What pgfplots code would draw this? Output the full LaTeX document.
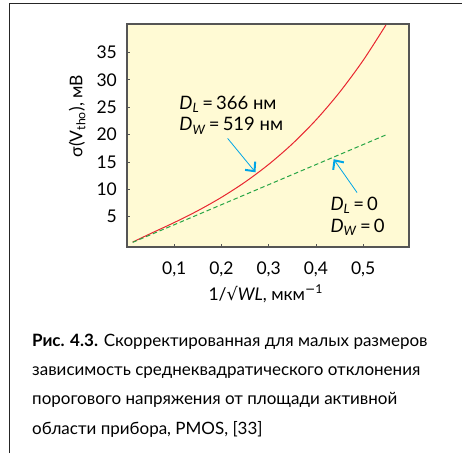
\documentclass[border=0pt]{standalone}
\usepackage{fontspec}
\setmainfont{Lato}
\newfontfamily\symfont{DejaVu Sans}
\usepackage{pgfplots}
\pgfplotsset{compat=1.18}
\usetikzlibrary{arrows.meta}
\definecolor{bgy}{RGB}{255,250,212}
\definecolor{cred}{RGB}{232,38,48}
\definecolor{cgreen}{RGB}{40,165,70}
\definecolor{cblue}{RGB}{0,165,230}
\definecolor{frm}{RGB}{85,85,85}
\begin{document}
\begin{tikzpicture}
\path[use as bounding box] (0pt,0pt) rectangle (462pt,453pt);
\draw[line width=1pt, black!85] (9.3pt,0pt) -- (9.3pt,449.7pt) -- (462pt,449.7pt);
\begin{axis}[
  at={(127pt,206pt)}, anchor=south west, scale only axis,
  width=282pt, height=223pt,
  xmin=0, xmax=0.597, ymin=-0.55, ymax=40.2,
  axis background/.style={fill=bgy},
  axis line style={frm, line width=1.2pt},
  tick align=inside, major tick length=3pt,
  tick style={frm, line width=0.8pt},
  xtick pos=bottom, ytick pos=left,
  xtick={0.1,0.2,0.3,0.4,0.5},
  xticklabels={{0,1},{0,2},{0,3},{0,4},{0,5}},
  ytick={5,10,15,20,25,30,35},
  yticklabels={5,10,15,20,25,30,35},
  tick label style={font=\fontsize{17.5}{20}\selectfont, inner sep=0pt},
  xticklabel style={anchor=base, yshift=-27pt},
  yticklabel style={anchor=east, xshift=-10pt},
  xlabel={1/{\symfont √}\textit{WL}, мкм\textsuperscript{{\symfont −}1}},
  xlabel style={at={(axis description cs:0.492,-0.238)}, anchor=base, inner sep=0pt, font=\fontsize{17.5}{20}\selectfont},
  ylabel={σ(V\textsubscript{tho}), мВ},
  ylabel style={at={(axis description cs:-0.177,0.587)}, anchor=center, inner sep=0pt, font=\fontsize{17.5}{20}\selectfont},
  clip=false,
]
\addplot[cred, line width=1pt, smooth] coordinates {
 (0.012,0.35) (0.05,1.91) (0.1,3.92) (0.15,6.09) (0.2,8.53) (0.25,11.32)
 (0.3,14.55) (0.35,18.3) (0.4,22.66) (0.45,27.72) (0.5,33.56) (0.548,40)
};
\addplot[cgreen, line width=1pt, dash pattern=on 4.5pt off 2.8pt] coordinates {
 (0.012,0.3) (0.55,20)
};
\draw[cblue, line width=0.8pt, -{Straight Barb[length=7pt,width=13pt,line width=2pt]}] (axis cs:0.213,19.3) -- (axis cs:0.272,13.1);
\draw[cblue, line width=0.8pt, -{Straight Barb[length=7pt,width=13pt,line width=2pt]}] (axis cs:0.487,9.4) -- (axis cs:0.4375,15.5);
\node[anchor=base west, inner sep=0pt, font=\fontsize{18.5}{20}\selectfont] at (axis cs:0.1106,24.6) {\textit{D}\textsubscript{\textit{L}}\,=\,366 нм};
\node[anchor=base west, inner sep=0pt, font=\fontsize{18.5}{20}\selectfont] at (axis cs:0.1106,20.7) {\textit{D}\textsubscript{\textit{W}}\,=\,519 нм};
\node[anchor=base west, inner sep=0pt, font=\fontsize{18.5}{20}\selectfont] at (axis cs:0.4305,6.09) {\textit{D}\textsubscript{\textit{L}}\,=\,0};
\node[anchor=base west, inner sep=0pt, font=\fontsize{18.5}{20}\selectfont] at (axis cs:0.4305,2.08) {\textit{D}\textsubscript{\textit{W}}\,=\,0};
\end{axis}
\begin{scope}[every node/.style={anchor=base west, inner sep=0pt, font=\fontsize{17}{20}\selectfont}]
\node at (32pt,106.5pt) {\textbf{Рис. 4.3.} Скорректированная для малых размеров};
\node at (32pt,77.3pt) {зависимость среднеквадратического отклонения};
\node at (32pt,48.1pt) {порогового напряжения от площади активной};
\node at (32pt,18.9pt) {области прибора, PMOS, [33]};
\end{scope}
\end{tikzpicture}
\end{document}
